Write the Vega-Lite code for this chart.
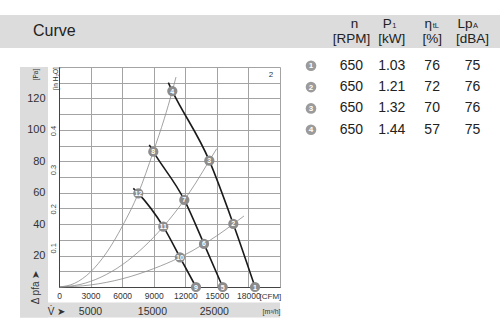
{
"$schema":"https://vega.github.io/schema/vega-lite/v6.json",
"width":221,"height":220,
"autosize":{"type":"none"},
"padding":{"left":59,"top":67,"right":220,"bottom":48},
"background":"white",
"config":{"view":{"stroke":"#a3a3a3","strokeWidth":1},"font":"Liberation Sans Narrow, Liberation Sans, sans-serif","text":{"font":"Liberation Sans Narrow, Liberation Sans, sans-serif"},"axis":{"labelFlush":false,"labelOverlap":false,"labelFont":"Liberation Sans Narrow, Liberation Sans, sans-serif","titleFont":"Liberation Sans Narrow, Liberation Sans, sans-serif"}},
"layer":[
{
"layer":[
{"data":{"values":[{"k":"left"}]},"mark":{"type":"rect","color":"#dcdcdc"},
 "encoding":{"x":{"datum":-3706,"type":"quantitative","scale":{"domain":[0,21000],"nice":false,"zero":false},"axis":null},"x2":{"datum":-1045},
 "y":{"datum":140,"type":"quantitative","scale":{"domain":[0,140],"nice":false},"axis":null},"y2":{"datum":-19.4}}},
{"data":{"values":[{"k":"bottom"}]},"mark":{"type":"rect","color":"#dcdcdc"},
 "encoding":{"x":{"datum":-3706,"type":"quantitative","scale":{"domain":[0,21000],"nice":false,"zero":false},"axis":null},"x2":{"datum":21000},
 "y":{"datum":-9.9,"type":"quantitative","scale":{"domain":[0,140],"nice":false},"axis":null},"y2":{"datum":-19.4}}},
{"data":{"values":[{"k":"header"}]},"mark":{"type":"rect","color":"#dcdcdc"},
 "encoding":{"x":{"datum":-5606,"type":"quantitative","scale":{"domain":[0,21000],"nice":false,"zero":false},"axis":null},"x2":{"datum":41904},
 "y":{"datum":173.1,"type":"quantitative","scale":{"domain":[0,140],"nice":false},"axis":null},"y2":{"datum":152.1}}},
{"data":{"values":[
{"s":"S1","cfm":0,"pa":0},{"s":"S1","cfm":1500,"pa":2.4},{"s":"S1","cfm":3000,"pa":9.6},{"s":"S1","cfm":4500,"pa":21.7},{"s":"S1","cfm":6000,"pa":38.5},{"s":"S1","cfm":7535,"pa":59.6},{"s":"S1","cfm":8960,"pa":86.1},{"s":"S1","cfm":10000,"pa":107},{"s":"S1","cfm":10766,"pa":124.7},{"s":"S1","cfm":11117,"pa":133.6},
{"s":"S2","cfm":0,"pa":0},{"s":"S2","cfm":2000,"pa":1.6},{"s":"S2","cfm":4000,"pa":6.3},{"s":"S2","cfm":6000,"pa":14.1},{"s":"S2","cfm":8000,"pa":25.1},{"s":"S2","cfm":9911,"pa":38.4},{"s":"S2","cfm":11906,"pa":55.4},{"s":"S2","cfm":13000,"pa":66.3},{"s":"S2","cfm":14282,"pa":80.4},{"s":"S2","cfm":14985,"pa":88.0},
{"s":"S3","cfm":0,"pa":0},{"s":"S3","cfm":3000,"pa":1.3},{"s":"S3","cfm":6000,"pa":5.2},{"s":"S3","cfm":9000,"pa":11.7},{"s":"S3","cfm":11497,"pa":18.9},{"s":"S3","cfm":13778,"pa":27.4},{"s":"S3","cfm":15000,"pa":32.6},{"s":"S3","cfm":16562,"pa":40.1},{"s":"S3","cfm":17579,"pa":45.2}
]},
 "mark":{"type":"line","interpolate":"monotone","color":"#8a8a8a","strokeWidth":0.8},
 "encoding":{
  "x":{"field":"cfm","type":"quantitative","scale":{"domain":[0,21000],"nice":false,"zero":false},
   "axis":{"orient":"bottom","offset":16,"zindex":1,"values":[2942.9,8828.7,14714.4],"labelExpr":"format(round(datum.value*1.69901/100)*100,'d')","grid":false,"domain":false,"ticks":false,"labelPadding":3,"labelFontSize":10.5,"labelColor":"#333","title":"[m³/h]","titleX":221,"titleY":8,"titleAlign":"right","titleBaseline":"middle","titleFontSize":7,"titleFontWeight":"normal","titleColor":"#333"}},
  "y":{"field":"pa","type":"quantitative","scale":{"domain":[0,140],"nice":false},
   "axis":{"orient":"left","zindex":1,"values":[24.909,49.818,74.727,99.636],"labelExpr":"format(datum.value/249.089,'.1f')","grid":false,"domain":false,"ticks":false,"labelAngle":270,"labelAlign":"center","labelBaseline":"bottom","labelPadding":1.5,"labelFontSize":7.5,"labelColor":"#444","title":"[in H₂O]","titleAngle":270,"titleX":-3.5,"titleY":11,"titleAlign":"center","titleBaseline":"middle","titleFontSize":6.5,"titleFontWeight":"normal","titleColor":"#333"}},
  "detail":{"field":"s","type":"nominal"}}},
{"data":{"values":[
{"c":"A","cfm":10386,"pa":130.0},{"c":"A","cfm":10766,"pa":124.7},{"c":"A","cfm":14282,"pa":80.4},{"c":"A","cfm":16562,"pa":40.1},{"c":"A","cfm":18624,"pa":0},
{"c":"B","cfm":8580,"pa":90.4},{"c":"B","cfm":8960,"pa":86.1},{"c":"B","cfm":11906,"pa":55.4},{"c":"B","cfm":13778,"pa":27.4},{"c":"B","cfm":15555,"pa":0},
{"c":"C","cfm":7060,"pa":62.8},{"c":"C","cfm":7535,"pa":59.6},{"c":"C","cfm":9911,"pa":38.4},{"c":"C","cfm":11497,"pa":18.9},{"c":"C","cfm":13018,"pa":0}
]},
 "mark":{"type":"line","interpolate":"monotone","color":"#1a1a1a","strokeWidth":1.6},
 "encoding":{
  "x":{"field":"cfm","type":"quantitative","scale":{"domain":[0,21000],"nice":false,"zero":false},
   "axis":{"orient":"bottom","zindex":0,"values":[0,3000,6000,9000,12000,15000,18000],"format":"d","grid":true,"gridColor":"#a3a3a3","gridWidth":1,"domain":true,"domainColor":"#444","domainWidth":1,"ticks":false,"labelPadding":4,"labelFontSize":8.5,"labelColor":"#333","title":"[CFM]","titleX":200,"titleY":9,"titleAlign":"left","titleBaseline":"middle","titleFontSize":8,"titleFontWeight":"normal","titleColor":"#333"}},
  "y":{"field":"pa","type":"quantitative","scale":{"domain":[0,140],"nice":false},
   "axis":{"orient":"left","zindex":1,"values":[20,40,60,80,100,120],"format":"d","grid":false,"domain":true,"domainColor":"#444","domainWidth":1,"ticks":false,"labelPadding":14,"labelFontSize":11,"labelColor":"#333","labelAlign":"right","labelBaseline":"middle","title":"[Pa]","titleAngle":270,"titleX":-24,"titleY":7,"titleAlign":"center","titleBaseline":"middle","titleFontSize":6.5,"titleFontWeight":"normal","titleColor":"#333"}},
  "detail":{"field":"c","type":"nominal"}}},
{"data":{"name":"pts","values":[
{"id":"1","cfm":18624,"pa":0},{"id":"2","cfm":16562,"pa":40.1},{"id":"3","cfm":14282,"pa":80.4},{"id":"4","cfm":10766,"pa":124.7},
{"id":"5","cfm":15555,"pa":0},{"id":"6","cfm":13778,"pa":27.4},{"id":"7","cfm":11906,"pa":55.4},{"id":"8","cfm":8960,"pa":86.1},
{"id":"9","cfm":13018,"pa":0},{"id":"10","cfm":11497,"pa":18.9},{"id":"11","cfm":9911,"pa":38.4},{"id":"12","cfm":7535,"pa":59.6}
]},
 "mark":{"type":"circle","size":105,"color":"#8c8c8c","opacity":1},
 "encoding":{
  "x":{"field":"cfm","type":"quantitative","scale":{"domain":[0,21000],"nice":false,"zero":false},"axis":null},
  "y":{"field":"pa","type":"quantitative","scale":{"domain":[0,140],"nice":false},
   "axis":{"orient":"left","zindex":0,"values":[10,20,30,40,50,60,70,80,90,100,110,120,130],"grid":true,"gridColor":"#a3a3a3","gridWidth":1,"labels":false,"ticks":false,"domain":false,"title":null}}}},
{"data":{"name":"pts"},
 "mark":{"type":"text","color":"white","fontSize":7,"fontWeight":"bold","font":"Liberation Sans, sans-serif","baseline":"middle","align":"center","dy":0.5},
 "encoding":{
  "x":{"field":"cfm","type":"quantitative","scale":{"domain":[0,21000],"nice":false,"zero":false},
   "axis":{"orient":"bottom","zindex":1,"labels":false,"ticks":false,"domain":false,"grid":false,"title":"V̇ ➤","titleX":-3,"titleY":24,"titleAlign":"center","titleBaseline":"middle","titleFontSize":10,"titleFontWeight":"normal","titleColor":"#333"}},
  "y":{"field":"pa","type":"quantitative","scale":{"domain":[0,140],"nice":false},
   "axis":{"orient":"left","zindex":1,"labels":false,"ticks":false,"domain":false,"grid":false,"title":"Δ pfa ➤","titleAngle":270,"titleX":-24,"titleY":220,"titleAlign":"center","titleBaseline":"middle","titleFontSize":10,"titleFontWeight":"normal","titleColor":"#333"}},
  "text":{"field":"id"}}},
{"data":{"values":[{"t":"Curve"}]},
 "mark":{"type":"text","align":"left","baseline":"middle","fontSize":16,"color":"#222"},
 "encoding":{"x":{"datum":-2470,"type":"quantitative","scale":{"domain":[0,21000],"nice":false,"zero":false},"axis":null},
  "y":{"datum":162.9,"type":"quantitative","scale":{"domain":[0,140],"nice":false},"axis":null},"text":{"field":"t"}}},
{"data":{"values":[{"t":"2"}]},
 "mark":{"type":"text","align":"center","baseline":"middle","fontSize":8,"color":"#333"},
 "encoding":{"x":{"datum":20144,"type":"quantitative","scale":{"domain":[0,21000],"nice":false,"zero":false},"axis":null},
  "y":{"datum":134.9,"type":"quantitative","scale":{"domain":[0,140],"nice":false},"axis":null},"text":{"field":"t"}}}
],
"resolve":{"axis":{"x":"independent","y":"independent"}}
},
{
"layer":[
{"data":{"name":"icons","values":[{"row":"1","col":"icon","t":"1"},{"row":"2","col":"icon","t":"2"},{"row":"3","col":"icon","t":"3"},{"row":"4","col":"icon","t":"4"}]},
 "mark":{"type":"circle","size":113,"color":"#9b9b9b","opacity":1},
 "encoding":{"x":{"field":"col","type":"nominal","scale":{"type":"point","domain":["icon","n","P","eta","Lp"],"range":[252,413.5],"padding":0},"axis":null},
  "y":{"field":"row","type":"nominal","scale":{"type":"point","domain":["0","1","2","3","4"],"range":[-22.5,62.7],"padding":0},"axis":null}}},
{"data":{"name":"icons"},
 "mark":{"type":"text","color":"white","fontSize":8,"fontWeight":"bold","font":"Liberation Sans, sans-serif","baseline":"middle","align":"center","dy":0.5},
 "encoding":{"x":{"field":"col","type":"nominal","axis":null},"y":{"field":"row","type":"nominal","axis":null},"text":{"field":"t"}}},
{"data":{"values":[
{"row":"1","col":"n","t":"650"},{"row":"1","col":"P","t":"1.03"},{"row":"1","col":"eta","t":"76"},{"row":"1","col":"Lp","t":"75"},
{"row":"2","col":"n","t":"650"},{"row":"2","col":"P","t":"1.21"},{"row":"2","col":"eta","t":"72"},{"row":"2","col":"Lp","t":"76"},
{"row":"3","col":"n","t":"650"},{"row":"3","col":"P","t":"1.32"},{"row":"3","col":"eta","t":"70"},{"row":"3","col":"Lp","t":"76"},
{"row":"4","col":"n","t":"650"},{"row":"4","col":"P","t":"1.44"},{"row":"4","col":"eta","t":"57"},{"row":"4","col":"Lp","t":"75"}
]},
 "mark":{"type":"text","fontSize":14,"color":"#222","baseline":"middle","align":"center"},
 "encoding":{"x":{"field":"col","type":"nominal","axis":null},"y":{"field":"row","type":"nominal","axis":null},"text":{"field":"t"}}},
{"data":{"name":"hdr","values":[
{"row":"0","col":"n","sym":"n","sub":"","unit":"[RPM]"},
{"row":"0","col":"P","sym":"P","sub":"1","unit":"[kW]"},
{"row":"0","col":"eta","sym":"η","sub":"tL","unit":"[%]"},
{"row":"0","col":"Lp","sym":"Lp","sub":"A","unit":"[dBA]"}
]},
 "mark":{"type":"text","fontSize":13.5,"color":"#222","baseline":"middle","align":"center","dy":-6},
 "encoding":{"x":{"field":"col","type":"nominal","axis":null},"y":{"field":"row","type":"nominal","axis":null},"text":{"field":"unit"}}},
{"data":{"name":"hdr"},"transform":[{"filter":"datum.col != 'n'"}],
 "mark":{"type":"text","fontSize":13.5,"color":"#222","baseline":"middle","align":"right","dy":-21},
 "encoding":{"x":{"field":"col","type":"nominal","axis":null},"y":{"field":"row","type":"nominal","axis":null},"text":{"field":"sym"}}},
{"data":{"name":"hdr"},"transform":[{"filter":"datum.col == 'n'"}],
 "mark":{"type":"text","fontSize":13.5,"color":"#222","baseline":"middle","align":"center","dx":3,"dy":-21},
 "encoding":{"x":{"field":"col","type":"nominal","axis":null},"y":{"field":"row","type":"nominal","axis":null},"text":{"field":"sym"}}},
{"data":{"name":"hdr"},"transform":[{"filter":"datum.col != 'n'"}],
 "mark":{"type":"text","fontSize":7.5,"color":"#222","baseline":"middle","align":"left","dx":0.5,"dy":-18.5},
 "encoding":{"x":{"field":"col","type":"nominal","axis":null},"y":{"field":"row","type":"nominal","axis":null},"text":{"field":"sub"}}}
]
}
],
"resolve":{"scale":{"x":"independent","y":"independent"}}
}
